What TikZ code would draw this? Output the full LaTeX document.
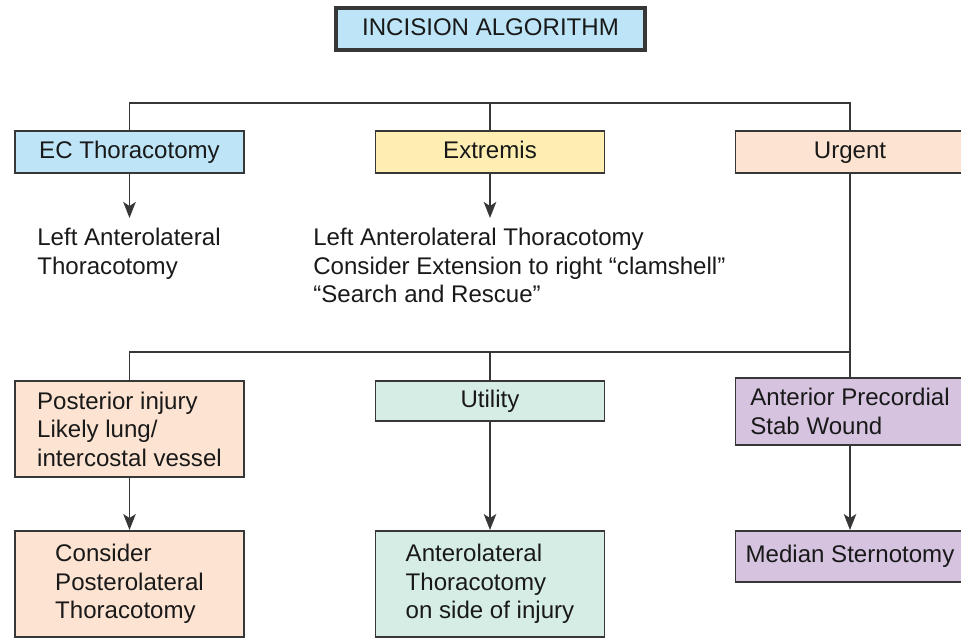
\documentclass[tikz,border=0pt]{standalone}
\usepackage{fontspec}
\setmainfont{Liberation Sans}
\usetikzlibrary{shapes,arrows.meta}

\definecolor{boxblue}{RGB}{190,229,247}
\definecolor{boxyellow}{RGB}{254,238,178}
\definecolor{boxpeach}{RGB}{253,228,210}
\definecolor{boxmint}{RGB}{214,237,230}
\definecolor{boxlilac}{RGB}{213,195,224}
\definecolor{linegray}{RGB}{55,55,55}

\begin{document}
\begin{tikzpicture}[x=0.02cm, y=-0.02cm, >={Stealth[length=3.2mm,width=2.5mm,inset=0.8mm]},
    font=\fontsize{13.7pt}{16.2pt}\selectfont,
    box/.style={draw=linegray, line width=1.1pt, rectangle, minimum width=4.58cm, inner sep=2pt, align=left, text=black!90},
    oneline/.style={text height=0.93em, text depth=0.21em},
    link/.style={draw=linegray, line width=1.1pt}]

    \useasboundingbox (0,0) rectangle (961,638);
    \clip (0,0) rectangle (961,638);

    % Titlu
    \node [box, oneline, fill=boxblue, line width=2.3pt, minimum width=6.18cm, minimum height=0.84cm] (title) at (490.5,29) {INCISION ALGORITHM};

    % Primul rand
    \node [box, oneline, fill=boxblue, minimum height=0.84cm] (ec) at (129.5,152) {EC Thoracotomy};
    \node [box, oneline, fill=boxyellow, minimum height=0.84cm] (extremis) at (490,152) {Extremis};
    \node [box, oneline, fill=boxpeach, minimum height=0.84cm] (urgent) at (850,152) {Urgent};

    % Texte libere
    \node [anchor=north west, inner xsep=0pt, inner ysep=0.2cm, align=left, text=black!90] (ectext) at (37,218) {Left Anterolateral\\Thoracotomy};
    \node [anchor=north west, inner xsep=0pt, inner ysep=0.2cm, align=left, text=black!90] (extext) at (313,218) {Left Anterolateral Thoracotomy\\Consider Extension to right “clamshell”\\“Search and Rescue”};

    % Al doilea rand
    \node [box, fill=boxpeach, minimum height=1.92cm] (posterior) at (129.5,429) {Posterior injury\\Likely lung/\\intercostal vessel};
    \node [box, oneline, fill=boxmint, minimum height=0.8cm] (utility) at (490,401) {Utility};
    \node [box, fill=boxlilac, minimum height=1.34cm] (anterior) at (850,411.5) {Anterior Precordial\\Stab Wound};

    % Ultimul rand
    \node [box, fill=boxpeach, minimum height=2.12cm] (consider) at (129.5,584) {Consider\\Posterolateral\\Thoracotomy};
    \node [box, fill=boxmint, minimum height=2.12cm] (anterolateral) at (490,584) {Anterolateral\\Thoracotomy\\on side of injury};
    \node [box, oneline, fill=boxlilac, minimum height=1.02cm] (median) at (850,556.5) {Median Sternotomy};

    % Linii de legatura
    \coordinate (bar1) at (490,103);
    \coordinate (bar2) at (490,352);
    \draw [link] (ec.north) |- (bar1) -| (urgent.north);
    \draw [link] (bar1) -- (extremis.north);
    \draw [link, ->] (ec.south) -- (ec.south |- ectext.north);
    \draw [link, ->] (extremis.south) -- (extremis.south |- extext.north);
    \draw [link] (urgent.south) |- (bar2) -| (posterior.north);
    \draw [link] (bar2) -- (utility.north);
    \draw [link] (urgent.south |- bar2) -- (anterior.north);
    \draw [link, ->] (posterior) -- (consider);
    \draw [link, ->] (utility) -- (anterolateral);
    \draw [link, ->] (anterior) -- (median);

\end{tikzpicture}
\end{document}
